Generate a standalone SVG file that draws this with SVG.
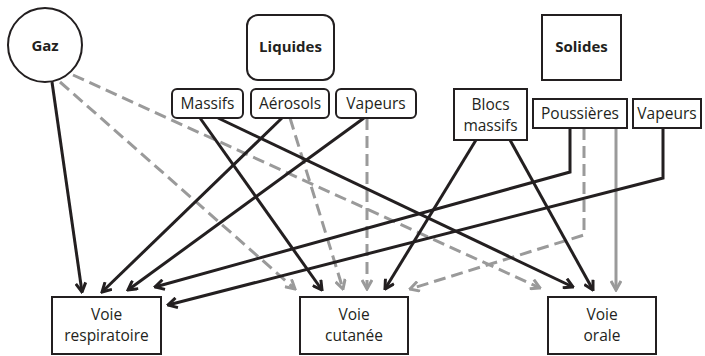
<svg xmlns="http://www.w3.org/2000/svg" width="705" height="356" viewBox="0 0 705 356">
<style>
.box{fill:#fff;stroke:#231f20;stroke-width:2}
.t{font-family:"Open Sans","Noto Sans",sans-serif;font-size:15.5px;fill:#231f20;text-anchor:middle}
.b{font-weight:bold;font-size:15px}
.k{fill:none;stroke:#231f20;stroke-width:3;marker-end:url(#ak)}
.g{fill:none;stroke:#9a9a9a;stroke-width:3;marker-end:url(#ag)}
.d{stroke-dasharray:12 6}
</style>
<defs>
<marker id="ak" viewBox="0 0 12 12" markerUnits="userSpaceOnUse" markerWidth="12" markerHeight="12" refX="10.5" refY="6" orient="auto">
<path d="M1.5,1 L10.5,6 L1.5,11" fill="none" stroke="#231f20" stroke-width="3"/>
</marker>
<marker id="ag" viewBox="0 0 12 12" markerUnits="userSpaceOnUse" markerWidth="12" markerHeight="12" refX="10.5" refY="6" orient="auto">
<path d="M1.5,1 L10.5,6 L1.5,11" fill="none" stroke="#9a9a9a" stroke-width="3"/>
</marker>
</defs>
<rect width="705" height="356" fill="#fff"/>
<g id="connectors">
<path class="g d" d="M60,82 L295,289"/>
<path class="g d" d="M73,75 L540,288"/>
<path class="g d" d="M290,118 L343,289"/>
<path class="g d" d="M367,118 L367,289"/>
<path class="g d" d="M584,128 L584,235 L410,289"/>
<path class="g" d="M616,128 L616,290"/>
<path class="k" d="M52,82 L82,292"/>
<path class="k" d="M282,118 L102,292"/>
<path class="k" d="M364,118 L128,290"/>
<path class="k" d="M570,128 L570,172 L155,287"/>
<path class="k" d="M663,128 L663,178 L168,305"/>
<path class="k" d="M200,118 L322,290"/>
<path class="k" d="M476,140 L385,289"/>
<path class="k" d="M218,118 L573,287"/>
<path class="k" d="M510,140 L593,290"/>
</g>
<g id="gaz"><circle class="box" cx="45" cy="45" r="37"/><text class="t b" x="45" y="51">Gaz</text></g>
<g id="liquides"><rect class="box" x="247" y="15" width="87" height="65" rx="11"/><text class="t b" x="290.5" y="52">Liquides</text></g>
<g id="solides"><rect class="box" x="542" y="15" width="79" height="65"/><text class="t b" x="581.5" y="52">Solides</text></g>
<g id="massifs"><rect class="box" x="172" y="89" width="71" height="29" rx="5"/><text class="t" x="207.5" y="109">Massifs</text></g>
<g id="aerosols"><rect class="box" x="251" y="89" width="78" height="29" rx="5"/><text class="t" x="290" y="109">Aérosols</text></g>
<g id="vapeurs-liquides"><rect class="box" x="336" y="89" width="80" height="29" rx="5"/><text class="t" x="376" y="109">Vapeurs</text></g>
<g id="blocs-massifs"><rect class="box" x="454" y="89" width="73" height="51"/><text class="t" x="490.5" y="110">Blocs</text><text class="t" x="490.5" y="131">massifs</text></g>
<g id="poussieres"><rect class="box" x="533" y="99" width="94" height="29"/><text class="t" x="580" y="119">Poussières</text></g>
<g id="vapeurs-solides"><rect class="box" x="633" y="99" width="68" height="29"/><text class="t" x="667" y="119">Vapeurs</text></g>
<g id="voie-respiratoire"><rect class="box" x="52" y="297" width="109" height="57"/><text class="t" x="106.5" y="320">Voie</text><text class="t" x="106.5" y="341">respiratoire</text></g>
<g id="voie-cutanee"><rect class="box" x="300" y="297" width="108" height="57"/><text class="t" x="354" y="320">Voie</text><text class="t" x="354" y="341">cutanée</text></g>
<g id="voie-orale"><rect class="box" x="548" y="297" width="108" height="57"/><text class="t" x="602" y="320">Voie</text><text class="t" x="602" y="341">orale</text></g>
</svg>
